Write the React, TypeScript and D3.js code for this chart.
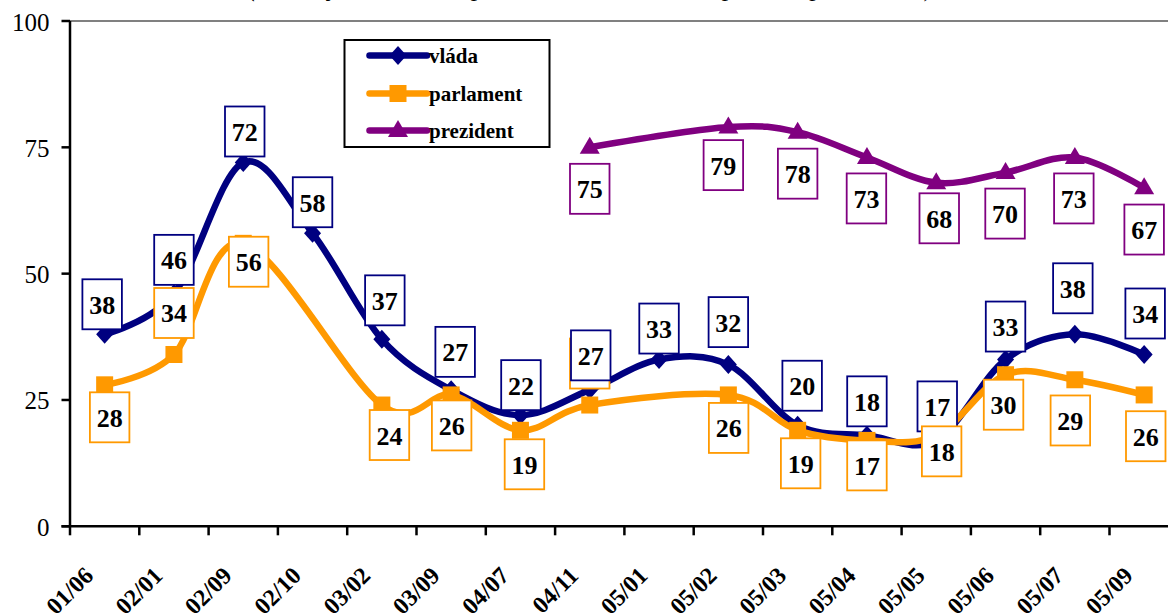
import React from 'react';
import * as d3 from 'd3';

// ---------- data ----------
const categories = ['01/06', '02/01', '02/09', '02/10', '03/02', '03/09', '04/07', '04/11', '05/01', '05/02', '05/03', '05/04', '05/05', '05/06', '05/07', '05/09'];
const yTicks = [0, 25, 50, 75, 100];
const vlada: (number | null)[] = [38, 46, 72, 58, 37, 27, 22, 27, 33, 32, 20, 18, 17, 33, 38, 34];
const parlament: (number | null)[] = [28, 34, 56, null, 24, 26, 19, 24, null, 26, 19, 17, 18, 30, 29, 26];
const prezident: (number | null)[] = [null, null, null, null, null, null, null, 75, null, 79, 78, 73, 68, 70, 73, 67];
const seriesNames = ['vláda', 'parlament', 'prezident'];
const subtitle = '(důvěřuje – součet odpovědí „rozhodně“ a „spíše“, v procentech)';

// ---------- layout (label offsets relative to each point, px) ----------
const vladaLabelOffsets: [number, number][] = [[-2.5, -30], [0, -34], [1.5, -31], [0, -31], [3, -39], [4, -38], [0.5, -30], [1, -34.5], [0, -31], [0, -42.5], [4.5, -39.5], [0, -34], [1, -34], [0, -33], [-2, -46], [1, -41]];
const parlamentLabelOffsets: [number, number][] = [[5, 32.5], [0, -41.5], [5.4, 18.4], [0, 0], [7.6, 30], [0.5, 30.5], [4, 34], [0, -41.5], [0, 0], [0.3, 33], [3, 33], [0, 25], [5.4, 16], [-2, 30], [-4.5, 40.7], [1.6, 41.3]];
const prezidentLabelOffsets: [number, number][] = [[0, 0], [0, 0], [0, 0], [0, 0], [0, 0], [0, 0], [0, 0], [0, 41.5], [0, 0], [-5, 38], [0, 41.5], [-0.5, 41], [3, 35.6], [-0.5, 41], [-1, 41], [0, 41.8]];
const parlamentFrontLabels = [12];

const W = 1168;
const H = 614;
const LEFT = 70;
const TOP = 21;
const BOTTOM = 526.3;
const BAND = 69.3;
const SERIF = '"Liberation Serif", "Times New Roman", Times, serif';
const COLORS = ['#000080', '#FF9900', '#800080'];

const x = d3.scaleBand<string>().domain(categories).range([LEFT, LEFT + BAND * categories.length]).padding(0);
const y = d3.scaleLinear().domain([0, 100]).range([BOTTOM, TOP]);
const cx = (c: string) => (x(c) as number) + x.bandwidth() / 2;

type Pt = { i: number; c: string; v: number };
const pts = (vals: (number | null)[]): Pt[] =>
  vals.map((v, i) => ({ i, c: categories[i], v })).filter((p) => p.v !== null) as Pt[];

const lineGen = d3
  .line<Pt>()
  .x((d) => cx(d.c))
  .y((d) => y(d.v))
  .curve(d3.curveCardinal.tension(0));

function Marker({ kind, color, tx, ty }: { kind: number; color: string; tx: number; ty: number }) {
  if (kind === 0) return <path d="M0,-9.5 L8.5,0 L0,9.5 L-8.5,0Z" transform={`translate(${tx},${ty})`} fill={color} />;
  if (kind === 1) return <rect x={tx - 8.5} y={ty - 8.5} width={17} height={17} fill={color} />;
  return <path d="M0,-10.5 L10,6.5 L-10,6.5Z" transform={`translate(${tx},${ty})`} fill={color} />;
}

function Label({ px, py, off, color, text }: { px: number; py: number; off: [number, number]; color: string; text: string }) {
  const bx = px + off[0];
  const by = py + off[1];
  const w = 39.5;
  const h = 50;
  return (
    <g>
      <rect x={bx - w / 2} y={by - h / 2} width={w} height={h} fill="#fff" stroke={color} strokeWidth={1.8} />
      <text x={bx} y={by + 9.5} textAnchor="middle" fontFamily={SERIF} fontWeight="bold" fontSize={26} fill="#000">
        {text}
      </text>
    </g>
  );
}

export default function App() {
  const seriesVals = [vlada, parlament, prezident];
  const offsets = [vladaLabelOffsets, parlamentLabelOffsets, prezidentLabelOffsets];
  const boundaries = [...categories.map((c) => x(c) as number), LEFT + BAND * categories.length];

  const labelFor = (s: number, p: Pt) => (
    <Label key={`l${s}-${p.i}`} px={cx(p.c)} py={y(p.v)} off={offsets[s][p.i]} color={COLORS[s]} text={String(p.v)} />
  );

  const orangePts = pts(parlament);
  const legendY = [55.5, 93.5, 130.5];

  return (
    <svg width={W} height={H} style={{ position: 'absolute', left: 0, top: 0, background: '#fff' }}>
      <rect x={0} y={0} width={W} height={H} fill="#fff" />
      {/* subtitle (clipped at top) */}
      <text x={591} y={-4} textAnchor="middle" fontFamily={SERIF} fontStyle="italic" fontSize={26} fill="#000">
        {subtitle}
      </text>
      {/* plot area top border */}
      <line x1={LEFT} x2={LEFT + BAND * categories.length} y1={TOP} y2={TOP} stroke="#808080" strokeWidth={2} />
      {/* y axis */}
      <line x1={LEFT} x2={LEFT} y1={TOP} y2={BOTTOM} stroke="#000" strokeWidth={2.5} />
      {yTicks.map((t) => (
        <g key={`yt${t}`}>
          <line x1={LEFT - 8.5} x2={LEFT} y1={y(t)} y2={y(t)} stroke="#000" strokeWidth={2.5} />
          <text x={49.5} y={y(t) + 9.5} textAnchor="end" fontFamily={SERIF} fontSize={25} fill="#000">
            {t}
          </text>
        </g>
      ))}
      {/* x axis */}
      <line x1={LEFT - 8.5} x2={W} y1={BOTTOM} y2={BOTTOM} stroke="#000" strokeWidth={2.5} />
      {boundaries.map((b, k) => (
        <line key={`xt${k}`} x1={b} x2={b} y1={BOTTOM} y2={BOTTOM + 9} stroke="#000" strokeWidth={2.5} />
      ))}
      {categories.map((c) => (
        <text
          key={`xl${c}`}
          transform={`translate(${cx(c) - 10},${577}) rotate(-45)`}
          textAnchor="end"
          fontFamily={SERIF}
          fontWeight="bold"
          fontSize={24}
          fill="#000"
        >
          {c}
        </text>
      ))}
      {/* series */}
      {seriesVals.map((vals, s) => {
        const p = pts(vals);
        return (
          <g key={`s${s}`}>
            <path d={lineGen(p) || ''} fill="none" stroke={COLORS[s]} strokeWidth={6.5} strokeLinejoin="round" strokeLinecap="round" />
            {p.map((d) => (
              <Marker key={`m${s}-${d.i}`} kind={s} color={COLORS[s]} tx={cx(d.c)} ty={y(d.v)} />
            ))}
          </g>
        );
      })}
      {/* data labels */}
      {orangePts.filter((p) => !parlamentFrontLabels.includes(p.i)).map((p) => labelFor(1, p))}
      {pts(vlada).map((p) => labelFor(0, p))}
      {pts(prezident).map((p) => labelFor(2, p))}
      {orangePts.filter((p) => parlamentFrontLabels.includes(p.i)).map((p) => labelFor(1, p))}
      {/* legend */}
      <rect x={344.5} y={40} width={205} height={107} fill="#fff" stroke="#000" strokeWidth={2} />
      {seriesNames.map((n, s) => (
        <g key={`lg${s}`}>
          <line x1={369.5} x2={427} y1={legendY[s]} y2={legendY[s]} stroke={COLORS[s]} strokeWidth={6.5} strokeLinecap="round" />
          <Marker kind={s} color={COLORS[s]} tx={398} ty={legendY[s]} />
          <text x={429} y={legendY[s] + 7} fontFamily={SERIF} fontWeight="bold" fontSize={21} fill="#000">
            {n}
          </text>
        </g>
      ))}
    </svg>
  );
}
